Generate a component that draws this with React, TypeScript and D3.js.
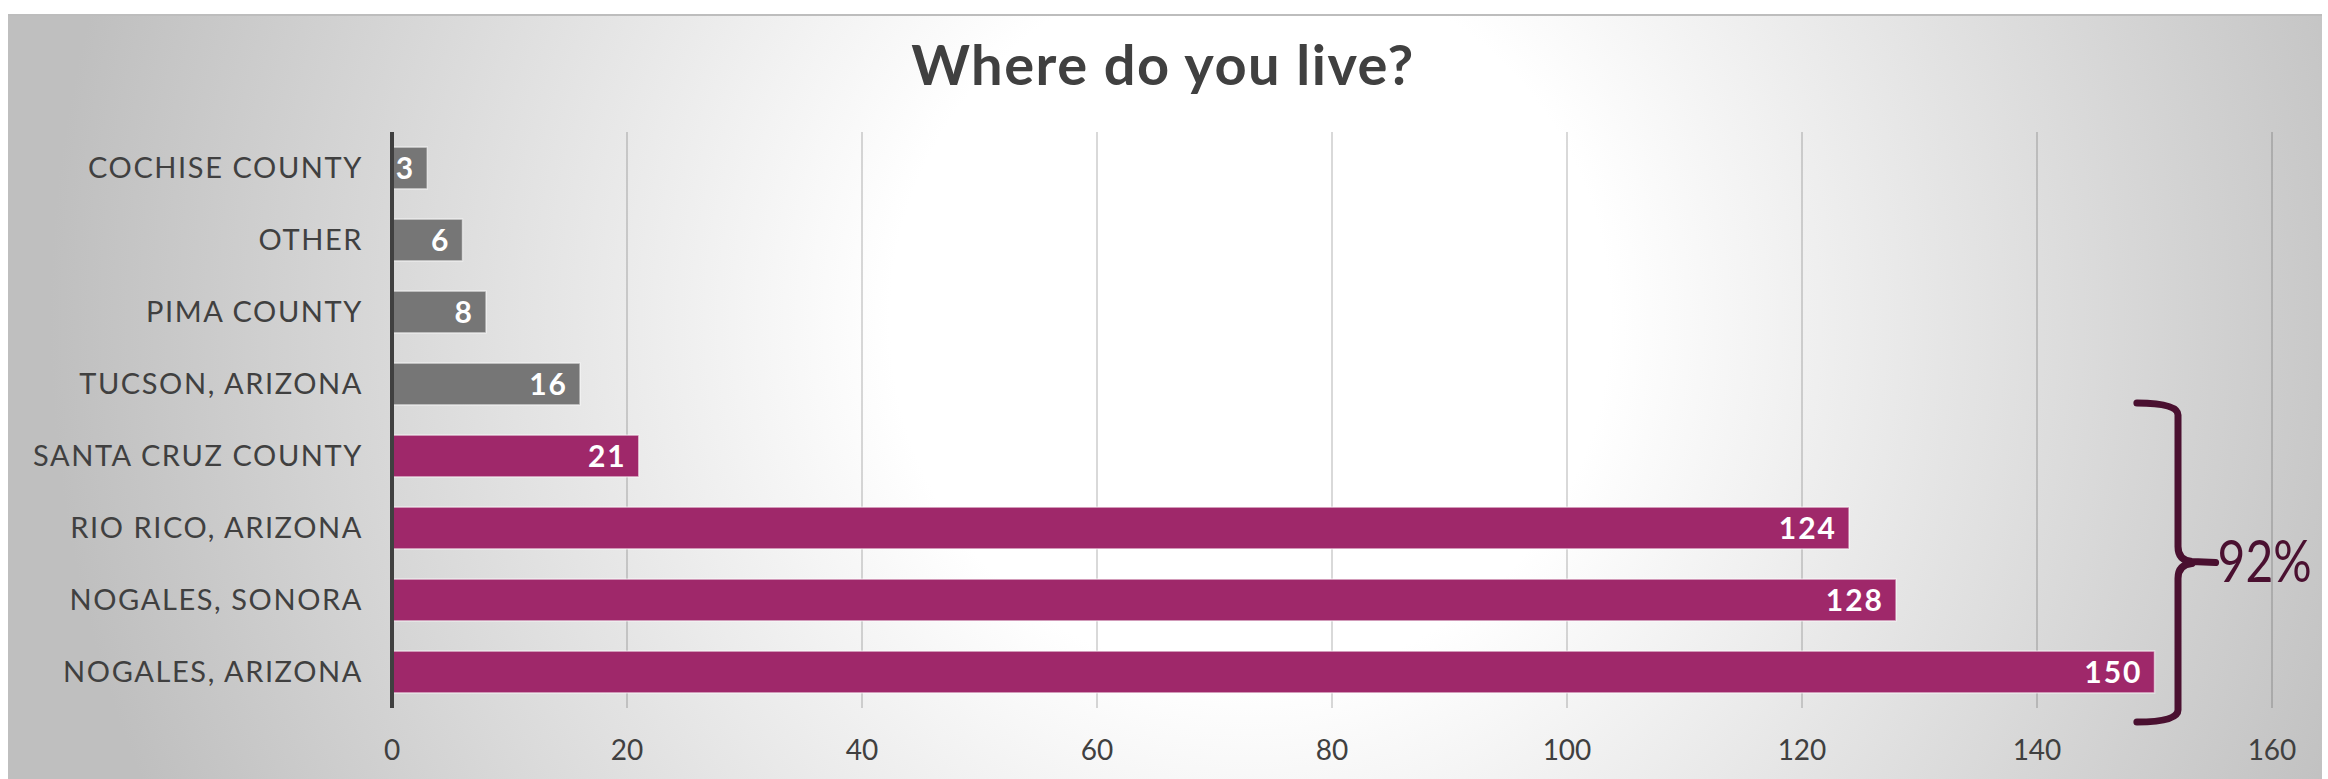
import React from "react";
import * as d3 from "d3";

const categories = [
  "COCHISE COUNTY",
  "OTHER",
  "PIMA COUNTY",
  "TUCSON, ARIZONA",
  "SANTA CRUZ COUNTY",
  "RIO RICO, ARIZONA",
  "NOGALES, SONORA",
  "NOGALES, ARIZONA",
];
const values = [3, 6, 8, 16, 21, 124, 128, 150];
const highlighted = [false, false, false, false, true, true, true, true];
const xTicks = [0, 20, 40, 60, 80, 100, 120, 140, 160];
const title = "Where do you live?";
const annotation = "92%";

const W = 2328;
const H = 779;

export default function App() {
  const x = d3.scaleLinear().domain([0, 160]).range([392, 2272]);
  const y = d3
    .scaleBand<string>()
    .domain(categories)
    .range([132, 708])
    .paddingInner(0.42)
    .paddingOuter(0.21);
  const step = y.step();
  const bw = y.bandwidth();

  const firstHi = categories[highlighted.indexOf(true)];
  const slotTop = (y(firstHi) as number) - (y.paddingInner() * step) / 2;
  const bTop = slotTop - 17;
  const bBot = 708 + 14;
  const bMid = (bTop + bBot) / 2;
  const xa = x(148.5);
  const xv = x(152);
  const xt = x(155.2);
  const r = 12;
  const bracket = [
    `M${xa},${bTop}`,
    `Q${xv},${bTop} ${xv},${bTop + r}`,
    `L${xv},${bMid - 16}`,
    `Q${xv},${bMid - 2} ${xv + 14},${bMid - 1}`,
    `L${xt},${bMid}`,
    `M${xv + 14},${bMid + 1}`,
    `Q${xv},${bMid + 2} ${xv},${bMid + 16}`,
    `L${xv},${bBot - r}`,
    `Q${xv},${bBot} ${xa},${bBot}`,
  ].join(" ");

  const font = "Lato, 'Open Sans', sans-serif";

  return (
    <svg
      width={W}
      height={H}
      style={{ position: "absolute", left: 0, top: 0, display: "block" }}
    >
      <defs>
        <radialGradient
          id="bg"
          gradientUnits="userSpaceOnUse"
          cx={1250}
          cy={320}
          r={1200}
        >
          <stop offset="0" stopColor="#ffffff" />
          <stop offset="0.3" stopColor="#ffffff" />
          <stop offset="1" stopColor="#bfbfbf" />
        </radialGradient>
      </defs>
      <rect x={0} y={0} width={W} height={H} fill="#ffffff" />
      <rect x={8} y={14} width={2314} height={H - 14} fill="url(#bg)" />
      <line x1={8} x2={2322} y1={15} y2={15} stroke="#bdbdbd" strokeWidth={2} />

      <text
        x={1163}
        y={85}
        textAnchor="middle"
        fontFamily={font}
        fontWeight={700}
        fontSize={56}
        letterSpacing={1.5}
        fill="#404040"
      >
        {title}
      </text>

      {xTicks.map((t) =>
        t === 0 ? null : (
          <line
            key={"g" + t}
            x1={x(t)}
            x2={x(t)}
            y1={132}
            y2={708}
            stroke="#000"
            strokeOpacity={0.15}
            strokeWidth={2}
          />
        )
      )}

      {xTicks.map((t) => (
        <text
          key={"t" + t}
          x={x(t)}
          y={760}
          textAnchor="middle"
          fontFamily={font}
          fontSize={28}
          fill="#404040"
        >
          {t}
        </text>
      ))}

      {categories.map((c, i) => (
        <g key={c}>
          <rect
            x={x(0)}
            y={y(c)}
            width={x(values[i]) - x(0)}
            height={bw}
            fill={highlighted[i] ? "#9f286a" : "#767676"}
            stroke="#ffffff"
            strokeOpacity={0.55}
            strokeWidth={1.5}
          />
          <text
            x={x(values[i]) - 12}
            y={(y(c) as number) + bw / 2 + 11}
            textAnchor="end"
            fontFamily={font}
            fontWeight={700}
            fontSize={30}
            letterSpacing={2}
            fill="#ffffff"
          >
            {values[i]}
          </text>
          <text
            x={363}
            y={(y(c) as number) + bw / 2 + 10}
            textAnchor="end"
            fontFamily={font}
            fontSize={29}
            letterSpacing={1.6}
            fill="#404040"
          >
            {c}
          </text>
        </g>
      ))}

      <line x1={x(0)} x2={x(0)} y1={132} y2={708} stroke="#404040" strokeWidth={4} />

      <path
        d={bracket}
        fill="none"
        stroke="#4a1030"
        strokeWidth={7}
        strokeLinecap="round"
        strokeLinejoin="round"
      />
      <text
        x={xt + 2}
        y={bMid + 19}
        fontFamily={font}
        fontSize={58}
        textLength={94}
        lengthAdjust="spacingAndGlyphs"
        fill="#4a1030"
      >
        {annotation}
      </text>
    </svg>
  );
}
